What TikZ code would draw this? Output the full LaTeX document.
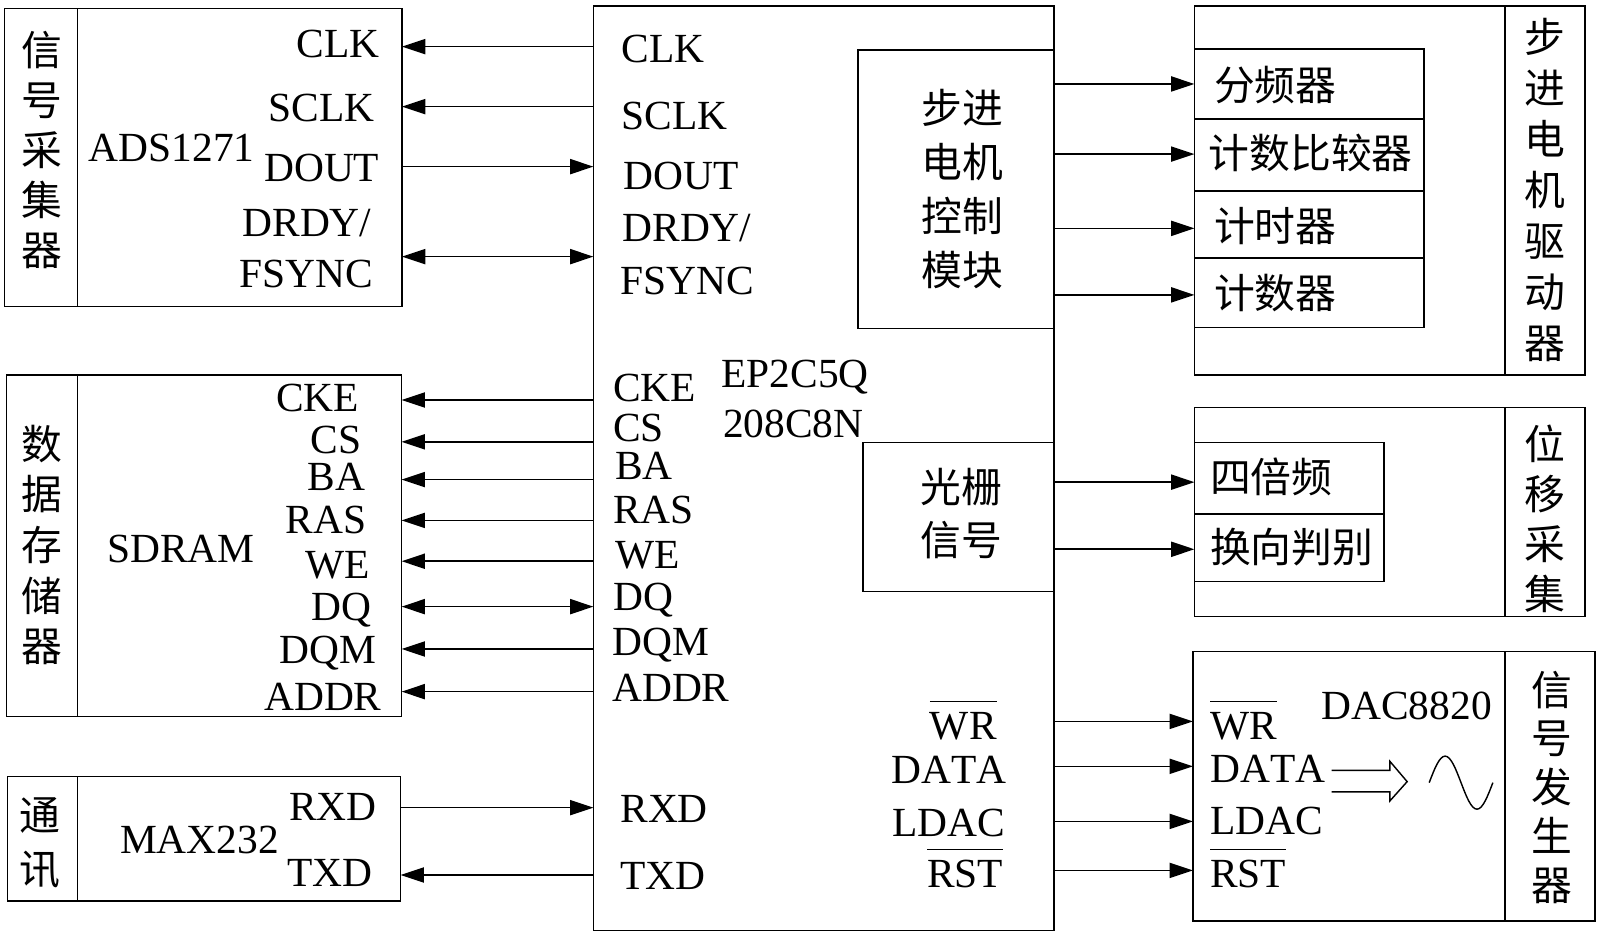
\documentclass[tikz,border=0pt]{standalone}
\usepackage{fontspec}
\setmainfont{Liberation Serif}[Kerning=Off]
\newfontfamily\cjk{Noto Sans CJK SC}
\usetikzlibrary{arrows.meta,fit}
\newcommand\ovl[1]{\vbox{\hrule height 0.75pt\kern5pt\hbox{#1}}}
\begin{document}
\begin{tikzpicture}[x=0.5pt,y=-0.5pt,line width=0.8pt,
  box/.style={draw,inner sep=0pt,outer sep=0pt},
  lbl/.style={font=\fontsize{20.3}{24}\selectfont,inner sep=0pt,outer sep=0pt},
  lbe/.style={lbl,anchor=base east},
  lbw/.style={lbl,anchor=base west},
  zh/.style={font=\cjk\fontsize{20}{#1}\selectfont,align=center,inner sep=0pt},
  lzh/.style={font=\cjk\fontsize{20}{24}\selectfont,inner sep=0pt,anchor=west},
  tip/.tip={Triangle[length=11.4pt,width=7.4pt]},
  arr/.style={-tip},
  arrb/.style={tip-tip}]
\useasboundingbox (0,0) rectangle (1568,918.3);
\fill[white] (0,0) rectangle (1568,918.3);

% ---------- boxes ----------
\node[box,fit={(4.5,8.2)(394,300.5)}] (ads) {};
\node[box,fit={(6.5,367.5)(393.6,702)}] (sdram) {};
\node[box,fit={(7.2,761)(392.6,883)}] (max) {};
\node[box,fit={(581.5,5.9)(1033,912)}] (fpga) {};
\node[box,fit={(841,49)(1033,321.8)}] (ctrl) {};
\node[box,fit={(846,433.8)(1033,579.8)}] (grat) {};
\node[box,fit={(1170.5,5.9)(1553.3,367.5)}] (drv) {};
\node[box,fit={(1170.5,399.5)(1553.3,604.3)}] (disp) {};
\node[box,fit={(1169,638.6)(1563,902.6)}] (sig) {};
% inner boxes
\node[box,fit={(1170.5,48.3)(1395.5,116.6)}] (fp) {};
\node[box,fit={(1170.5,116.6)(1395.5,186.9)}] (cmp) {};
\node[box,fit={(1170.5,186.9)(1395.5,253)}] (tmr) {};
\node[box,fit={(1170.5,253)(1395.5,321)}] (cnt) {};
\node[box,fit={(1170.5,433.5)(1356,503.7)}] (x4) {};
\node[box,fit={(1170.5,503.7)(1356,570)}] (dir) {};
% dividers
\coordinate (dl) at (76,0);
\coordinate (dr) at (1475,0);
\draw (dl |- ads.north) -- (dl |- ads.south);
\draw (dl |- sdram.north) -- (dl |- sdram.south);
\draw (dl |- max.north) -- (dl |- max.south);
\draw (dr |- drv.north) -- (dr |- drv.south);
\draw (dr |- disp.north) -- (dr |- disp.south);
\draw (dr |- sig.north) -- (dr |- sig.south);

% ---------- left box 1 ----------
\node[zh=24.5pt] (adszh) at (41,147) {信\\号\\采\\集\\器};
\node[lbw] (adsname) at (87,158.4) {ADS1271};
\node[lbe] (aclk) at (371.7,56.2) {CLK};
\node[lbe] (asclk) at (367,119) {SCLK};
\node[lbe] (adout) at (371.7,178) {DOUT};
\node[lbe] (adrdy) at (364,231.3) {DRDY/};
\node[lbe] (afsync) at (366,281.6) {FSYNC};

% ---------- left box 2 ----------
\node[zh=24.8pt] (sdzh) at (41.5,534) {数\\据\\存\\储\\器};
\node[lbw] (sdname) at (105,551) {SDRAM};
\node[lbe] (scke) at (352,403.4) {CKE};
\node[lbe] (scs) at (354.4,444) {CS};
\node[lbe] (sba) at (357.7,480.8) {BA};
\node[lbe] (sras) at (359,522.7) {RAS};
\node[lbe] (swe) at (362.6,566.8) {WE};
\node[lbe] (sdq) at (364,608) {DQ};
\node[lbe] (sdqm) at (369,650.7) {DQM};
\node[lbe] (saddr) at (374,696.5) {ADDR};

% ---------- left box 3 ----------
\node[zh=26.3pt] (mxzh) at (39.5,826) {通\\讯};
\node[lbw] (mxname) at (117.6,836) {MAX232};
\node[lbe] (mrxd) at (369,803.6) {RXD};
\node[lbe] (mtxd) at (365,869) {TXD};

% ---------- FPGA ----------
\node[lbw] (fclk) at (609,61.4) {CLK};
\node[lbw] (fsclk) at (609,126.7) {SCLK};
\node[lbw] (fdout) at (611,185.5) {DOUT};
\node[lbw] (fdrdy) at (610,237) {DRDY/};
\node[lbw] (ffsync) at (608,289) {FSYNC};
\node[lbw] (fcke) at (601,393.6) {CKE};
\node[lbw] (fcs) at (601,433) {CS};
\node[lbw] (fba) at (602.7,470.4) {BA};
\node[lbw] (fras) at (601,512.6) {RAS};
\node[lbw] (fwe) at (602.7,556.7) {WE};
\node[lbw] (fdq) at (601,598.5) {DQ};
\node[lbw] (fdqm) at (600,642) {DQM};
\node[lbw] (faddr) at (600,687.6) {ADDR};
\node[lbw] (fname1) at (707,380) {EP2C5Q};
\node[lbw] (fname2) at (708.7,429) {208C8N};
\node[lbw] (frxd) at (608,806) {RXD};
\node[lbw] (ftxd) at (608,871.5) {TXD};
\node[lbe] (fwr) at (976.7,725) {\ovl{WR}};
\node[lbe] (fdata) at (986.5,767.7) {DATA};
\node[lbe] (fldac) at (985,820) {LDAC};
\node[lbe] (frst) at (983,870) {\ovl{RST}};
\node[zh=26.5pt] (ctrlzh) at (943,185.6) {步进\\电机\\控制\\模块};
\node[zh=26pt] (gratzh) at (942.4,503) {光栅\\信号};

% ---------- right boxes ----------
\node[zh=25pt] (drvzh) at (1514,186.3) {步\\进\\电\\机\\驱\\动\\器};
\node[lzh] (fptx) at (1189,83.3) {分频器};
\node[lzh] (cmptx) at (1183.7,150) {计数比较器};
\node[lzh] (tmrtx) at (1189,222) {计时器};
\node[lzh] (cnttx) at (1189,287) {计数器};
\node[zh=24.5pt] (dispzh) at (1514,508) {位\\移\\采\\集};
\node[lzh] (x4tx) at (1185,467.5) {四倍频};
\node[lzh] (dirtx) at (1185,535.7) {换向判别};
\node[zh=23.9pt] (sigzh) at (1520.6,771.5) {信\\号\\发\\生\\器};
\node[lbw] (dname) at (1295,705.6) {DAC8820};
\node[lbw] (dwr) at (1186,725) {\ovl{WR}};
\node[lbw] (ddata) at (1186,767) {DATA};
\node[lbw] (dldac) at (1186,818) {LDAC};
\node[lbw] (drst) at (1186,870) {\ovl{RST}};
% hollow arrow and sine wave
\draw[line width=0.7pt,line join=miter] (1305,755) -- (1362,755) -- (1362,746) -- (1379,766) -- (1362,785) -- (1362,776) -- (1305,776);
\draw[line width=0.7pt] (1400.6,767) sin (1416.2,741) cos (1431.8,767) sin (1447.4,793) cos (1463,767);

% ---------- connectors ----------
\coordinate (y1) at (0,45.7);
\coordinate (y2) at (0,104.5);
\coordinate (y3) at (0,163.3);
\coordinate (y4) at (0,251.5);
\draw[arr] (y1 -| fpga.west) -- (y1 -| ads.east);
\draw[arr] (y2 -| fpga.west) -- (y2 -| ads.east);
\draw[arr] (y3 -| ads.east) -- (y3 -| fpga.west);
\draw[arrb] (y4 -| ads.east) -- (y4 -| fpga.west);
\foreach \yy [count=\i] in {392,433,470,510,550,636,677.8}{
  \coordinate (s\i) at (0,\yy);
  \draw[arr] (s\i -| fpga.west) -- (s\i -| sdram.east);
}
\coordinate (sdqy) at (0,594.5);
\draw[arrb] (sdqy -| sdram.east) -- (sdqy -| fpga.west);
\coordinate (rx) at (0,791.5);
\coordinate (tx) at (0,857.5);
\draw[arr] (rx -| max.east) -- (rx -| fpga.west);
\draw[arr] (tx -| fpga.west) -- (tx -| max.east);
\foreach \yy [count=\i] in {82.3,151,223.8,289}{
  \coordinate (r\i) at (0,\yy);
  \draw[arr] (r\i -| ctrl.east) -- (r\i -| drv.west);
}
\foreach \yy [count=\i] in {472.5,538.3}{
  \coordinate (g\i) at (0,\yy);
  \draw[arr] (g\i -| grat.east) -- (g\i -| disp.west);
}
\foreach \yy [count=\i] in {707,751,805,853}{
  \coordinate (d\i) at (0,\yy);
  \draw[arr] (d\i -| fpga.east) -- (d\i -| sig.west);
}
\end{tikzpicture}
\end{document}
